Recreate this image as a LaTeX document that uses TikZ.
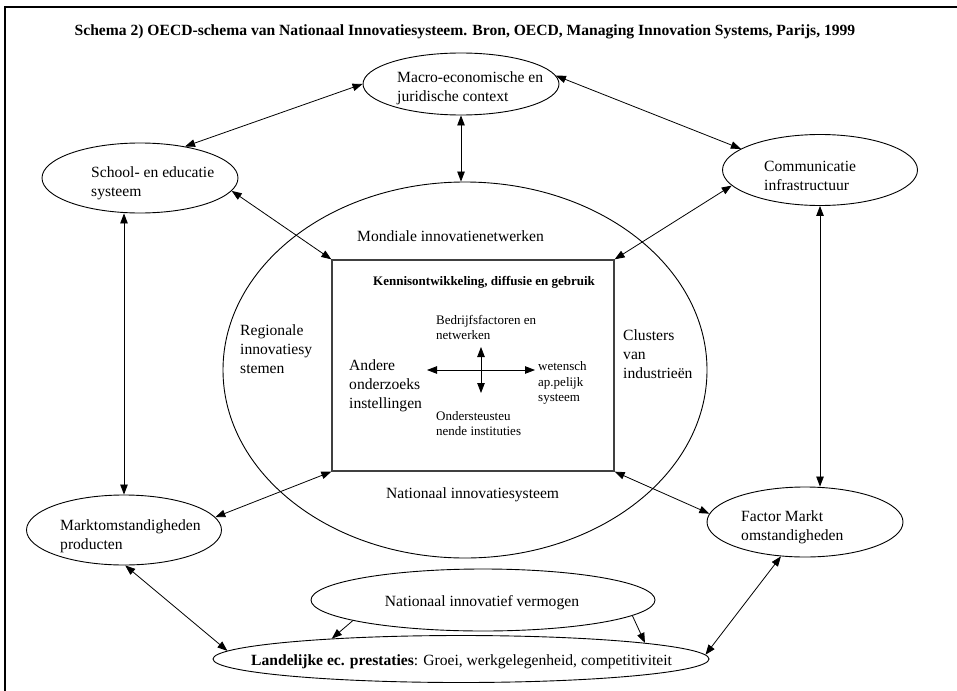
\documentclass[tikz,border=0pt]{standalone}
\usepackage{fontspec}
\setmainfont{Liberation Serif}
\usetikzlibrary{arrows.meta,shapes.geometric}
\begin{document}
\begin{tikzpicture}[x=1pt,y=-1pt,
  ell/.style={draw,ellipse,inner sep=0pt,line width=0.9pt},
  lbl/.style={anchor=west,align=left,inner sep=0pt,font=\fontsize{15.6}{19}\selectfont},
  sml/.style={anchor=west,align=left,inner sep=0pt,font=\fontsize{13}{15.5}\selectfont},
  link/.style={line width=0.8pt,{Triangle[length=10pt,width=7.5pt]}-{Triangle[length=10pt,width=7.5pt]}},
  one/.style={line width=0.8pt,-{Triangle[length=10pt,width=7.5pt]}}]
\useasboundingbox (0,0) rectangle (957,690);
\fill[white] (0,0) rectangle (957,690);
% frame
\draw[line width=2pt] (5,700) -- (5,7) -- (965,7);
% title
\node[inner sep=0pt,font=\bfseries\fontsize{15.6}{18}\selectfont] (title) at (465,32)
  {Schema 2) OECD-schema van Nationaal Innovatiesysteem. Bron, OECD, Managing Innovation Systems, Parijs, 1999};
% shapes
\node[ell,minimum width=196pt,minimum height=62pt] (macro) at (461,84) {};
\node[ell,minimum width=196pt,minimum height=70pt] (school) at (140,178) {};
\node[ell,minimum width=195pt,minimum height=71pt] (comm) at (820,170) {};
\node[ell,minimum width=484pt,minimum height=376pt] (big) at (465,370) {};
\node[draw=black!75,line width=1.3pt,inner sep=0pt,minimum width=282pt,minimum height=211pt] (rect) at (473,365.5) {};
\node[ell,minimum width=195pt,minimum height=70pt] (markt) at (124,530) {};
\node[ell,minimum width=196pt,minimum height=70pt] (factor) at (805,522) {};
\node[ell,minimum width=344pt,minimum height=62pt] (niv) at (483,600) {};
\node[ell,minimum width=496pt,minimum height=47pt] (land) at (461,659) {};
% texts
\node[lbl] (tmacro) at (397,88.5) {Macro-economische en\\juridische context};
\node[lbl] (tschool) at (91,183.5) {School- en educatie\\systeem};
\node[lbl] (tcomm) at (764,175.5) {Communicatie\\infrastructuur};
\node[lbl] (tmond) at (357,236) {Mondiale innovatienetwerken};
\node[sml,font=\bfseries\fontsize{13}{15.5}\selectfont] (tkenn) at (373,282) {Kennisontwikkeling, diffusie en gebruik};
\node[sml] (tbedr) at (436,327.5) {Bedrijfsfactoren en\\netwerken};
\node[lbl] (tander) at (349,386) {Andere\\onderzoeks\\instellingen};
\node[sml] (twet) at (538,383) {wetensch\\ap.pelijk\\systeem};
\node[sml] (tonder) at (436,423.5) {Ondersteusteu\\nende instituties};
\node[lbl] (treg) at (240,349) {Regionale\\innovatiesy\\stemen};
\node[lbl] (tclus) at (623,354) {Clusters\\van\\industrieën};
\node[lbl] (tnat) at (386,495) {Nationaal innovatiesysteem};
\node[lbl] (tmarkt) at (60,536) {Marktomstandigheden\\producten};
\node[lbl] (tfactor) at (741,527.5) {Factor Markt\\omstandigheden};
\node[lbl,anchor=center] (tniv) at (482,603) {Nationaal innovatief vermogen};
\node[lbl] (tland) at (251,662) {\textbf{Landelijke ec. prestaties}: Groei, werkgelegenheid, competitiviteit};
% connectors
\draw[link] (macro.180) -- (school.35);
\draw[link] (macro.5) -- (comm.165);
\draw[link] (macro.south) -- (macro.south |- big.north);
\draw[link] (school.-8) -- (rect.north west);
\draw[link] (comm.190) -- (rect.north east);
\draw[link] (markt.north |- school.south) -- (markt.north);
\draw[link] (comm.south) -- (comm.south |- factor.north);
\draw[link] (rect.south west) -- (markt.8);
\draw[link] (rect.south east) -- (factor.175);
\draw[link] (markt.-88) -- (land.178);
\draw[link] (factor.-125) -- (land.1);
\draw[one] (niv.189) -- (land.171);
\draw[one] (niv.-6) -- (land.5);
% inner cross
\coordinate (hl) at (427,370);
\coordinate (hr) at (535,370);
\coordinate (vt) at (481,347);
\coordinate (vb) at (481,393);
\draw[link] (hl) -- (hr);
\draw[link] (vt) -- (vb);
\end{tikzpicture}
\end{document}
